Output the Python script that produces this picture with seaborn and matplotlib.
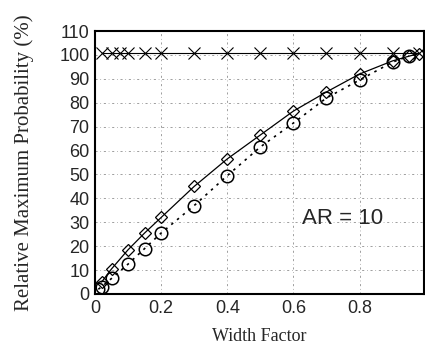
import pandas as pd
import seaborn as sns
import matplotlib.pyplot as plt

# width factor values and relative maximum probability (%)
x_diamond = [0.02, 0.05, 0.1, 0.15, 0.2, 0.3, 0.4, 0.5, 0.6, 0.7, 0.8, 0.9, 0.95, 0.98]
y_diamond = [5, 10.5, 18.5, 25.5, 32, 45, 56.5, 66.5, 76.5, 84.5, 92, 97.5, 99.5, 100.5]

x_circle = [0.01, 0.02, 0.05, 0.1, 0.15, 0.2, 0.3, 0.4, 0.5, 0.6, 0.7, 0.8, 0.9, 0.95]
y_circle = [2, 3, 6.5, 12.5, 19, 25.5, 37, 49.5, 61.5, 71.5, 82, 89.5, 97, 99.5]

x_cross = [0.02, 0.05, 0.075, 0.1, 0.15, 0.2, 0.3, 0.4, 0.5, 0.6, 0.7, 0.8, 0.9, 0.98]
y_cross = [101] * len(x_cross)

x_ticks = [0, 0.2, 0.4, 0.6, 0.8]
y_ticks = list(range(0, 111, 10))

sns.set_style("white")
plt.rcParams["font.family"] = ["Liberation Sans", "DejaVu Sans"]

fig = plt.figure(figsize=(4.25, 3.53), dpi=100)
ax = fig.add_axes([95 / 425, 59 / 353, 329 / 425, 263 / 353])

diamonds = pd.DataFrame({"x": x_diamond, "y": y_diamond})
circles = pd.DataFrame({"x": x_circle, "y": y_circle})
crosses = pd.DataFrame({"x": x_cross, "y": y_cross})

sns.lineplot(data=crosses, x="x", y="y", ax=ax, color="black", lw=0.8,
             marker="x", markersize=8, markeredgecolor="black", markeredgewidth=0.8)
sns.lineplot(data=diamonds, x="x", y="y", ax=ax, color="black", lw=0.9,
             marker="D", markersize=6, markerfacecolor="none",
             markeredgecolor="black", markeredgewidth=0.9)
sns.lineplot(data=circles, x="x", y="y", ax=ax, color="black", lw=1.2,
             linestyle=(0, (1.5, 3)), marker="o", markersize=9,
             markerfacecolor="none", markeredgecolor="black", markeredgewidth=1.1)

ax.set_xlim(0, 0.995)
ax.set_ylim(0, 110)
ax.set_xticks(x_ticks)
ax.set_xticklabels(["0", "0.2", "0.4", "0.6", "0.8"])
ax.set_yticks(y_ticks)
ax.tick_params(axis="both", labelsize=13, length=0, pad=4)

ax.grid(True, color="#777777", lw=0.5, linestyle=(0, (3, 4, 1, 4)))
for s in ax.spines.values():
    s.set_color("black")
    s.set_linewidth(1.5)

ax.text(0.627, 31.5, "AR = 10", fontsize=16, va="center", ha="left")

ax.set_xlabel("Width Factor", fontsize=13, family="Liberation Serif", labelpad=8)
ax.set_ylabel("Relative Maximum Probability (%)", fontsize=15,
              family="Liberation Serif", labelpad=18)

fig.savefig("out.png", dpi=100)
